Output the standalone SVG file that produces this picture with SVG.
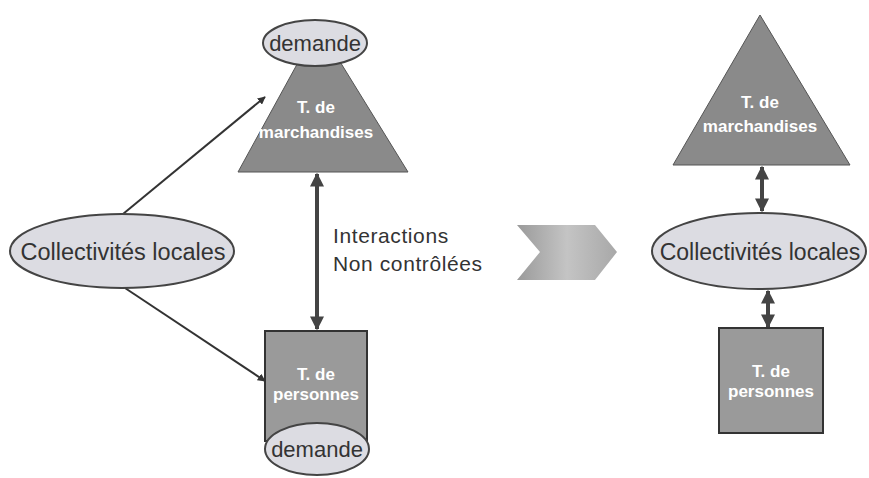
<svg xmlns="http://www.w3.org/2000/svg" width="869" height="478" viewBox="0 0 869 478">
<style>
.ell{fill:#dcdce2;stroke:#444;stroke-width:2}
.tri{fill:#8a8a8a;stroke:#555;stroke-width:1}
.box{fill:#9a9a9a;stroke:#333;stroke-width:2}
.lbl{font-family:"Liberation Sans",Arial,sans-serif;fill:#333;text-anchor:middle}
.in{font-family:"Liberation Sans",Arial,sans-serif;fill:#fff;font-weight:bold;font-size:17px;text-anchor:middle}
.thin{stroke:#333;stroke-width:2;fill:none}
.dbl{stroke:#444;stroke-width:4;fill:none}
.note{font-family:"Liberation Sans",Arial,sans-serif;font-size:21px;fill:#333;letter-spacing:0.6px}
</style>
<defs>
<marker id="ah" viewBox="0 0 10 10" refX="9" refY="5" markerWidth="4" markerHeight="4" orient="auto-start-reverse"><path d="M0,0 L10,5 L0,10 z" fill="#333"/></marker>
<marker id="big" viewBox="0 0 10 10" refX="9" refY="5" markerWidth="3.5" markerHeight="3.5" orient="auto-start-reverse"><path d="M0,0 L10,5 L0,10 z" fill="#444"/></marker>
<linearGradient id="chev" x1="0" y1="0" x2="1" y2="0"><stop offset="0" stop-color="#9a9a9a"/><stop offset="0.5" stop-color="#c4c4c4"/><stop offset="1" stop-color="#a8a8a8"/></linearGradient>
</defs>
<rect width="869" height="478" fill="#fff"/>
<g id="connectors">
<line class="thin" x1="123" y1="214" x2="265" y2="97" marker-end="url(#ah)"/>
<line class="thin" x1="125" y1="288" x2="265" y2="381" marker-end="url(#ah)"/>
<line class="dbl" x1="317" y1="174" x2="317" y2="329" marker-start="url(#big)" marker-end="url(#big)"/>
<line class="dbl" x1="762" y1="167" x2="762" y2="211" marker-start="url(#big)" marker-end="url(#big)"/>
<line class="dbl" x1="768" y1="291" x2="768" y2="327" marker-start="url(#big)" marker-end="url(#big)"/>
</g>
<g id="tri-left">
<polygon class="tri" points="318,26 238,172 408,172"/>
<text class="in" x="316" y="113">T. de</text>
<text class="in" x="316" y="138">marchandises</text>
</g>
<g id="demande-top">
<ellipse class="ell" cx="315" cy="43" rx="52" ry="23"/>
<text class="lbl" x="315" y="51" font-size="22">demande</text>
</g>
<g id="box-left">
<rect class="box" x="265" y="331" width="102" height="110"/>
<text class="in" x="316" y="380">T. de</text>
<text class="in" x="316" y="400">personnes</text>
</g>
<g id="demande-bottom">
<ellipse class="ell" cx="317" cy="449" rx="52" ry="26"/>
<text class="lbl" x="317" y="457" font-size="22">demande</text>
</g>
<g id="coll-left">
<ellipse class="ell" cx="122" cy="251" rx="112" ry="37"/>
<text class="lbl" x="123" y="260" font-size="23.5">Collectivités locales</text>
</g>
<g id="interactions">
<text class="note" x="333" y="243">Interactions</text>
<text class="note" x="333" y="271">Non contrôlées</text>
</g>
<g id="chevron">
<polygon points="517,225 595,225 617,252 595,280 517,280 540,252" fill="url(#chev)"/>
</g>
<g id="tri-right">
<polygon class="tri" points="760,15 673,165 850,165"/>
<text class="in" x="760" y="108">T. de</text>
<text class="in" x="760" y="132">marchandises</text>
</g>
<g id="coll-right">
<ellipse class="ell" cx="759" cy="251" rx="107" ry="38"/>
<text class="lbl" x="760" y="260" font-size="23">Collectivités locales</text>
</g>
<g id="box-right">
<rect class="box" x="719" y="328" width="104" height="105"/>
<text class="in" x="771" y="377">T. de</text>
<text class="in" x="771" y="397">personnes</text>
</g>
</svg>
